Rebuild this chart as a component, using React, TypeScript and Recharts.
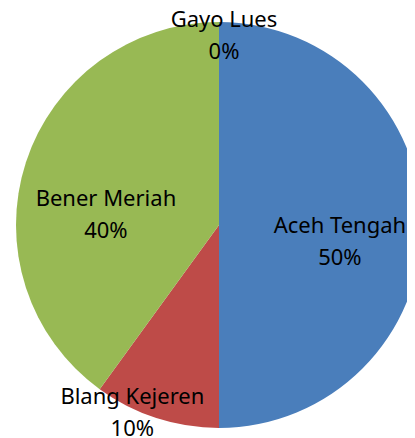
import React from 'react';
import { PieChart, Pie, Cell } from 'recharts';

const regions = ['Aceh Tengah', 'Blang Kejeren', 'Bener Meriah', 'Gayo Lues'];
const shares = [50, 10, 40, 0];
const colors = ['#4A7EBB', '#BE4B48', '#98B954', '#7D60A0'];
// where each label sits, as a fraction of the radius and a turn off the slice middle
const labelRadius = [0.6, 1.01, 0.56, 0.94];
const labelShift = [-7, -7, 12, -1.5];

const data = regions.map((name, i) => ({ name, value: shares[i] }));

const RADIAN = Math.PI / 180;

const renderLabel = (props: any) => {
  const { cx, cy, midAngle, outerRadius, percent, index, name } = props;
  const r = outerRadius * labelRadius[index];
  const a = (midAngle + labelShift[index]) * RADIAN;
  const x = cx + r * Math.cos(a);
  const y = cy - r * Math.sin(a);
  return (
    <text
      x={x}
      y={y}
      textAnchor="middle"
      fill="#000"
      fontSize={22}
      fontFamily="'Noto Sans', sans-serif"
    >
      <tspan x={x} y={y - 16} dominantBaseline="central">{name}</tspan>
      <tspan x={x} y={y + 16} dominantBaseline="central">{Math.round(percent * 100) + '%'}</tspan>
    </text>
  );
};

const App = () => {
  return (
    <PieChart width={407} height={430} margin={{ top: 0, right: 0, bottom: 0, left: 0 }}>
      <Pie
        data={data}
        dataKey="value"
        nameKey="name"
        cx={211}
        cy={217}
        outerRadius={203}
        startAngle={90}
        endAngle={-270}
        stroke="none"
        label={renderLabel}
        labelLine={false}
        isAnimationActive={false}
      >
        {data.map((d, i) => (
          <Cell key={d.name} fill={colors[i]} />
        ))}
      </Pie>
    </PieChart>
  );
};

export default App;
